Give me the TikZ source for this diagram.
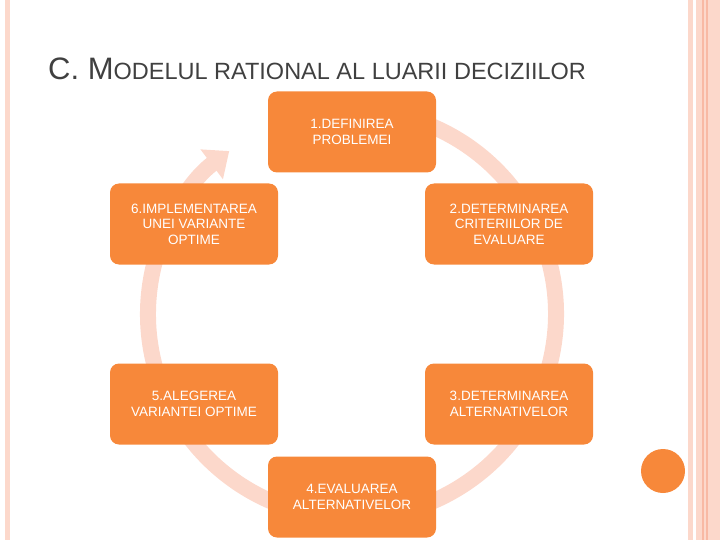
\documentclass[tikz,border=0pt]{standalone}
\usepackage{fontspec}
\setmainfont{Liberation Sans}
\usetikzlibrary{arrows.meta}
\definecolor{boxor}{HTML}{F7883A}
\definecolor{ring}{HTML}{FCD8CB}
\definecolor{edge}{HTML}{F8B9A4}
\definecolor{titlec}{HTML}{404040}
\tikzset{stepbox/.style={fill=boxor,draw=none,rounded corners=9pt,minimum width=168pt,minimum height=81pt,text=white,align=center,font=\fontsize{13.5}{15.5}\selectfont,inner sep=2pt}}
\begin{document}
\begin{tikzpicture}[x=1pt,y=-1pt]
\useasboundingbox (0,0) rectangle (720,540);
\fill[ring] (5,0) rectangle (10,540);
\fill[ring] (688,0) rectangle (693,540);
\fill[ring] (696,0) rectangle (720,540);
\fill[edge] (702,0) rectangle (703.5,540);
\fill[edge] (706,0) rectangle (707.5,540);
\node[anchor=base west,text=titlec,inner sep=0] (t) at (48,80) {\fontsize{31}{36}\selectfont C. M\fontsize{23.5}{28}\selectfont ODELUL RATIONAL AL LUARII DECIZIILOR};
\draw[ring,line width=16pt,-{Triangle[length=22pt,width=36pt]}] (352,314) ++(-80:204) arc[start angle=-80,end angle=233,radius=204];
\node[stepbox] (n1) at (352,132) {1.DEFINIREA\\PROBLEMEI};
\node[stepbox] (n2) at (509,224) {2.DETERMINAREA\\CRITERIILOR DE\\EVALUARE};
\node[stepbox] (n3) at (509,404) {3.DETERMINAREA\\ALTERNATIVELOR};
\node[stepbox] (n4) at (352,497) {4.EVALUAREA\\ALTERNATIVELOR};
\node[stepbox] (n5) at (194,404) {5.ALEGEREA\\VARIANTEI OPTIME};
\node[stepbox] (n6) at (194,224) {6.IMPLEMENTAREA\\UNEI VARIANTE\\OPTIME};
\fill[boxor] (663,471) circle (22);
\end{tikzpicture}
\end{document}
